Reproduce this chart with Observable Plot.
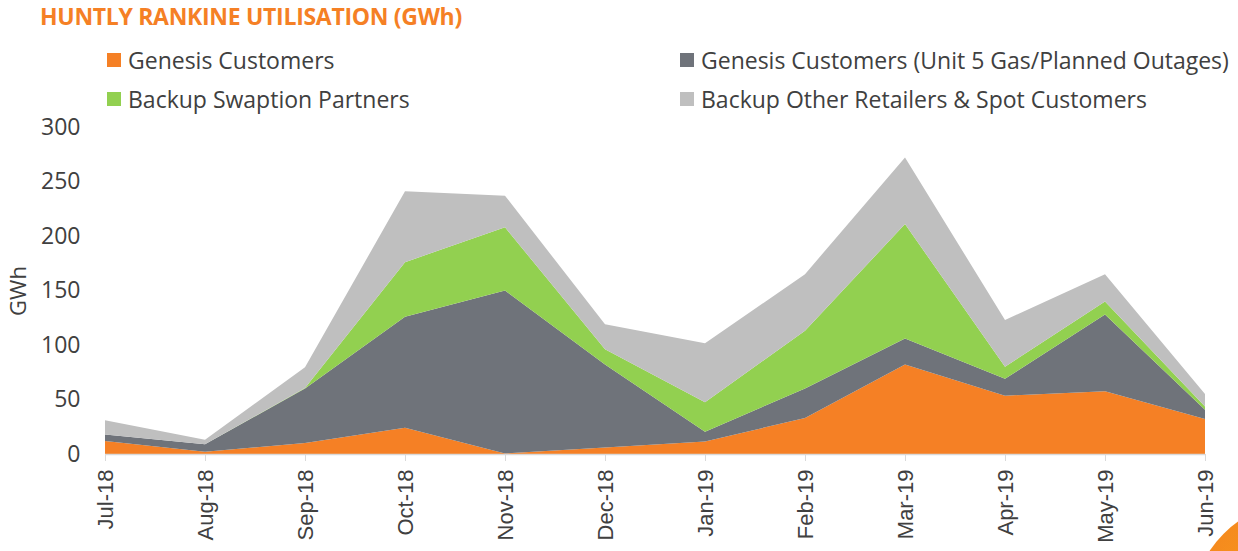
<!DOCTYPE html>
<html>
<head>
<meta charset="utf-8">
<script src="https://cdn.jsdelivr.net/npm/d3@7"></script>
<script src="https://cdn.jsdelivr.net/npm/@observablehq/plot@0.6"></script>
<style>
  html, body { margin: 0; padding: 0; background: #fff; }
  #wrap { position: relative; width: 1238px; height: 551px; overflow: hidden; font-family: "Open Sans", sans-serif; }
  #title { position: absolute; left: 40px; top: 0px; font-size: 23px; font-weight: 700; color: #F58025; letter-spacing: -0.3px; }
  .leg { position: absolute; font-size: 23px; color: #404040; white-space: nowrap; display: flex; align-items: center; }
  .sw { width: 14px; height: 14px; margin-right: 7px; display: inline-block; }
  #chart { position: absolute; left: 0; top: 100px; }
  #chart svg [aria-label="y-axis label"] text { font-size: 22px; }
  #deco { position: absolute; left: 1192px; top: 502px; width: 216px; height: 216px; border-radius: 50%; background: radial-gradient(circle at 30% 30%, #F7941D, #EE6A1F); }
</style>
</head>
<body>
<div id="wrap">
  <div id="title">HUNTLY RANKINE UTILISATION (GWh)</div>
  <div id="legend"></div>
  <div id="chart"></div>
  <div id="deco"></div>
</div>
<script>
const months = ["Jul-18","Aug-18","Sep-18","Oct-18","Nov-18","Dec-18","Jan-19","Feb-19","Mar-19","Apr-19","May-19","Jun-19"];
const seriesNames = [
  "Genesis Customers",
  "Genesis Customers (Unit 5 Gas/Planned Outages)",
  "Backup Swaption Partners",
  "Backup Other Retailers & Spot Customers"
];
const seriesColors = ["#F58025", "#6F737A", "#92D050", "#BFBFBF"];
const genesisCustomers   = [12, 2, 10, 24, 0.5, 6, 11.5, 33, 82, 53.5, 57.5, 32];
const unit5Outages       = [6, 7, 50, 102, 149.5, 76, 9, 27, 24, 15.5, 70.5, 8.5];
const swaptionPartners   = [0, 0, 0.5, 50, 58, 14, 27, 53, 105, 11, 12, 3];
const otherRetailersSpot = [13, 4, 19, 65, 29, 23, 54, 52, 61, 43, 25, 11.5];
const yTicks = [0, 50, 100, 150, 200, 250, 300];

const seriesValues = [genesisCustomers, unit5Outages, swaptionPartners, otherRetailersSpot];
const data = [];
seriesNames.forEach((s, i) => months.forEach((m, j) => data.push({month: m, series: s, value: seriesValues[i][j]})));

// legend
const legend = document.getElementById("legend");
const legPos = [[107, 44], [680, 44], [107, 83], [680, 83]];
[0, 1, 2, 3].forEach((i, k) => {
  const d = document.createElement("div");
  d.className = "leg";
  d.style.left = legPos[k][0] + "px";
  d.style.top = legPos[k][1] + "px";
  d.innerHTML = `<span class="sw" style="background:${seriesColors[i]}"></span>`;
  d.appendChild(document.createTextNode(seriesNames[i]));
  legend.appendChild(d);
});

const chart = Plot.plot({
  width: 1238,
  height: 451,
  marginLeft: 105,
  marginRight: 33,
  marginTop: 27,
  marginBottom: 97,
  style: { fontFamily: "'Open Sans', sans-serif", color: "#404040", background: "transparent" },
  x: { type: "point", domain: months, padding: 0 },
  y: { domain: [0, 300] },
  color: { domain: seriesNames, range: seriesColors },
  marks: [
    Plot.areaY(data, Plot.stackY({ order: seriesNames }, { x: "month", y: "value", z: "series", fill: "series" })),
    Plot.ruleY([0], { stroke: "#D9D9D9", strokeWidth: 1.5 }),
    Plot.axisY({ ticks: yTicks, tickSize: 0, tickPadding: 25, fontSize: 23, label: "GWh", labelAnchor: "center", labelArrow: "none", labelOffset: 95, fill: "#404040" }),
    Plot.axisX({ tickSize: 7, stroke: "#D9D9D9", tickRotate: -90, tickPadding: 8, fontSize: 22, fontFamily: "'Liberation Sans', Arial, sans-serif", label: null, fill: "#404040" })
  ]
});
document.getElementById("chart").appendChild(chart);
</script>
</body>
</html>
